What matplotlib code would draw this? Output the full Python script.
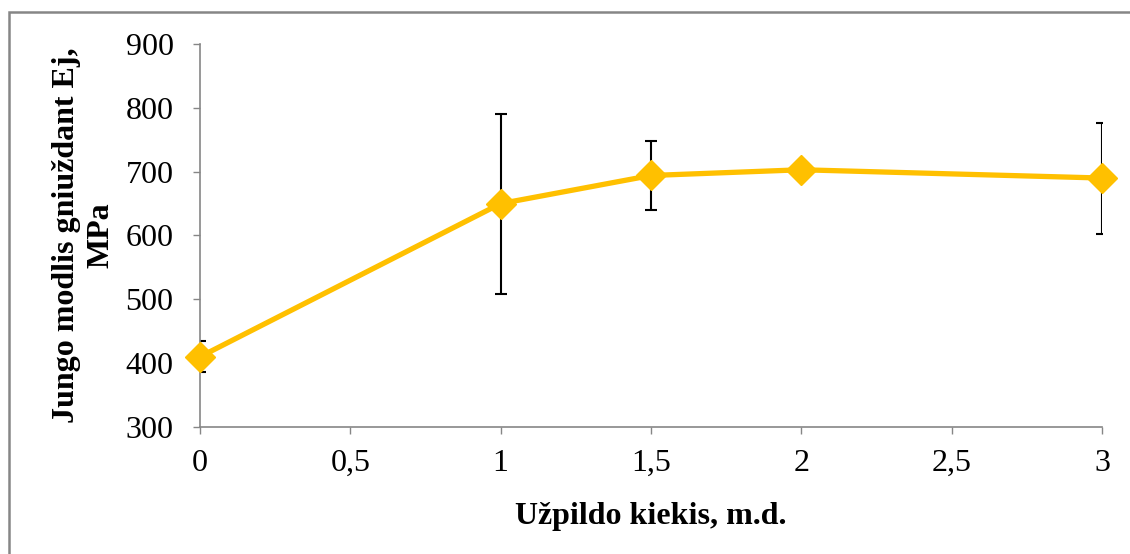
import numpy as np
import matplotlib
matplotlib.use("Agg")
import matplotlib.pyplot as plt

x_vals = [0, 1, 1.5, 2, 3]
y_vals = [410, 650, 694, 703, 690]
y_err = [24, 141, 54, 0, 87]

x_ticks = [0, 0.5, 1, 1.5, 2, 2.5, 3]
x_ticklabels = ["0", "0,5", "1", "1,5", "2", "2,5", "3"]
y_ticks = [300, 400, 500, 600, 700, 800, 900]

plt.rcParams['font.family'] = ['Liberation Serif', 'DejaVu Serif']

fig = plt.figure(figsize=(11.30, 5.54), dpi=100)
ax = fig.add_axes([200/1130, 1-427/554, 902/1130, 383/554])

# error bars first, then the line on top
ax.errorbar(x_vals, y_vals, yerr=y_err, fmt='none', ecolor='black',
            elinewidth=1.5, capsize=4.5, capthick=1.5, zorder=2)
ax.plot(x_vals, y_vals, color='#FFC000', linewidth=3.8, marker='D',
        markersize=15, zorder=3, clip_on=False)

ax.set_xlim(0, 3)
ax.set_ylim(300, 900)
ax.set_xticks(x_ticks)
ax.set_xticklabels(x_ticklabels)
ax.set_yticks(y_ticks)
ax.tick_params(labelsize=23, length=5, color='#868686', width=1)
ax.tick_params(axis='x', pad=11)
ax.tick_params(axis='y', pad=14)

for s in ['top', 'right']:
    ax.spines[s].set_visible(False)
for s in ['left', 'bottom']:
    ax.spines[s].set_color('#868686')
    ax.spines[s].set_linewidth(1.2)

ax.set_xlabel("Užpildo kiekis, m.d.", fontsize=23, fontweight='bold', labelpad=17)
ax.set_ylabel("Jungo modlis gniuždant Ej,\nMPa", fontsize=23, fontweight='bold',
              labelpad=7, linespacing=1.25)

# outer chart border (only top and left edges are inside the picture)
border = plt.Rectangle((9/1130, -10/554), 1140/1130, 1-12/554+10/554,
                       transform=fig.transFigure, fill=False,
                       edgecolor='#868686', linewidth=1.8)
fig.patches.append(border)

fig.savefig("out.png", dpi=100)
